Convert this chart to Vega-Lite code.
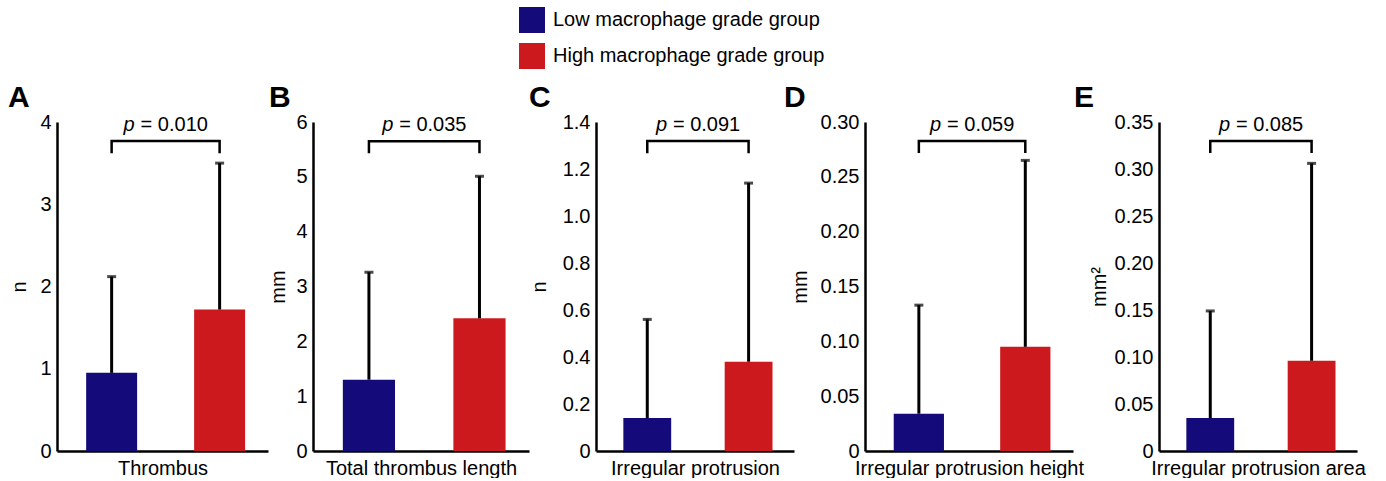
{
  "$schema": "https://vega.github.io/schema/vega-lite/v6.json",
  "padding": {"left": 8, "top": 7, "right": 0, "bottom": 0},
  "background": "white",
  "datasets": {
    "bars": [
      {"panel": "A", "group": "Low macrophage grade group", "mean": 0.95, "upper": 2.12},
      {"panel": "A", "group": "High macrophage grade group", "mean": 1.72, "upper": 3.5},
      {"panel": "B", "group": "Low macrophage grade group", "mean": 1.3, "upper": 3.26},
      {"panel": "B", "group": "High macrophage grade group", "mean": 2.42, "upper": 5.01},
      {"panel": "C", "group": "Low macrophage grade group", "mean": 0.14, "upper": 0.56},
      {"panel": "C", "group": "High macrophage grade group", "mean": 0.38, "upper": 1.14},
      {"panel": "D", "group": "Low macrophage grade group", "mean": 0.034, "upper": 0.133},
      {"panel": "D", "group": "High macrophage grade group", "mean": 0.095, "upper": 0.265},
      {"panel": "E", "group": "Low macrophage grade group", "mean": 0.035, "upper": 0.149},
      {"panel": "E", "group": "High macrophage grade group", "mean": 0.096, "upper": 0.306}
    ],
    "tests": [
      {"panel": "A", "label": "= 0.010", "ty": 3.96},
      {"panel": "B", "label": "= 0.035", "ty": 5.95},
      {"panel": "C", "label": "= 0.091", "ty": 1.387},
      {"panel": "D", "label": "= 0.059", "ty": 0.2973},
      {"panel": "E", "label": "= 0.085", "ty": 0.3468}
    ],
    "bracket": [
      {"panel": "A", "group": "Low macrophage grade group", "y": 3.62, "o": 1},
      {"panel": "A", "group": "Low macrophage grade group", "y": 3.77, "o": 2},
      {"panel": "A", "group": "High macrophage grade group", "y": 3.77, "o": 3},
      {"panel": "A", "group": "High macrophage grade group", "y": 3.62, "o": 4},
      {"panel": "B", "group": "Low macrophage grade group", "y": 5.43, "o": 1},
      {"panel": "B", "group": "Low macrophage grade group", "y": 5.65, "o": 2},
      {"panel": "B", "group": "High macrophage grade group", "y": 5.65, "o": 3},
      {"panel": "B", "group": "High macrophage grade group", "y": 5.43, "o": 4},
      {"panel": "C", "group": "Low macrophage grade group", "y": 1.267, "o": 1},
      {"panel": "C", "group": "Low macrophage grade group", "y": 1.319, "o": 2},
      {"panel": "C", "group": "High macrophage grade group", "y": 1.319, "o": 3},
      {"panel": "C", "group": "High macrophage grade group", "y": 1.267, "o": 4},
      {"panel": "D", "group": "Low macrophage grade group", "y": 0.2717, "o": 1},
      {"panel": "D", "group": "Low macrophage grade group", "y": 0.2827, "o": 2},
      {"panel": "D", "group": "High macrophage grade group", "y": 0.2827, "o": 3},
      {"panel": "D", "group": "High macrophage grade group", "y": 0.2717, "o": 4},
      {"panel": "E", "group": "Low macrophage grade group", "y": 0.317, "o": 1},
      {"panel": "E", "group": "Low macrophage grade group", "y": 0.3298, "o": 2},
      {"panel": "E", "group": "High macrophage grade group", "y": 0.3298, "o": 3},
      {"panel": "E", "group": "High macrophage grade group", "y": 0.317, "o": 4}
    ]
  },
  "spacing": -10,
  "hconcat": [
    {
      "spacing": 0,
      "hconcat": [
        {
          "width": 211, "height": 329,
          "title": {"text": "A", "dx": -49},
          "layer": [
            {"data": {"name": "bars"}, "transform": [{"filter": "datum.panel === 'A'"}], "mark": {"type": "bar"},
             "encoding": {
               "x": {"field": "group", "type": "nominal", "sort": ["Low macrophage grade group", "High macrophage grade group"], "scale": {"paddingInner": 0.528, "paddingOuter": 0.241, "align": 0.56}, "axis": {"title": "Thrombus"}},
               "y": {"field": "mean", "type": "quantitative", "scale": {"domain": [0, 4], "nice": false}, "axis": {"title": "n", "values": [0, 1, 2, 3, 4], "format": "d", "titlePadding": 10}},
               "color": {"field": "group", "type": "nominal", "scale": {"domain": ["Low macrophage grade group", "High macrophage grade group"], "range": ["#150a7a", "#cc191e"]}, "legend": {"title": null, "orient": "none", "legendX": 462, "legendY": -115, "direction": "vertical"}}
             }},
            {"data": {"name": "bars"}, "transform": [{"filter": "datum.panel === 'A'"}], "mark": {"type": "rule", "color": "black", "strokeWidth": 3},
             "encoding": {"x": {"field": "group", "type": "nominal", "sort": ["Low macrophage grade group", "High macrophage grade group"]}, "y": {"field": "mean", "type": "quantitative"}, "y2": {"field": "upper"}}},
            {"data": {"name": "bars"}, "transform": [{"filter": "datum.panel === 'A'"}], "mark": {"type": "tick", "orient": "horizontal", "color": "black", "size": 9, "thickness": 3},
             "encoding": {"x": {"field": "group", "type": "nominal", "sort": ["Low macrophage grade group", "High macrophage grade group"]}, "y": {"field": "upper", "type": "quantitative"}}},
            {"data": {"name": "bracket"}, "transform": [{"filter": "datum.panel === 'A'"}], "mark": {"type": "line", "color": "black", "strokeWidth": 2.5, "strokeCap": "butt"},
             "encoding": {"x": {"field": "group", "type": "nominal", "sort": ["Low macrophage grade group", "High macrophage grade group"]}, "y": {"field": "y", "type": "quantitative"}, "order": {"field": "o"}}},
            {"data": {"name": "tests"}, "transform": [{"filter": "datum.panel === 'A'"}], "mark": {"type": "text", "text": "p", "fontStyle": "italic", "align": "left", "baseline": "middle", "dx": -42, "fontSize": 20},
             "encoding": {"x": {"datum": "Low macrophage grade group", "type": "nominal", "bandPosition": 1.559}, "y": {"field": "ty", "type": "quantitative"}}},
            {"data": {"name": "tests"}, "transform": [{"filter": "datum.panel === 'A'"}], "mark": {"type": "text", "align": "left", "baseline": "middle", "dx": -25, "fontSize": 20},
             "encoding": {"x": {"datum": "Low macrophage grade group", "type": "nominal", "bandPosition": 1.559}, "y": {"field": "ty", "type": "quantitative"}, "text": {"field": "label"}}}
          ]
        },
        {
          "width": 216, "height": 329,
          "title": {"text": "B", "dx": -44},
          "layer": [
            {"data": {"name": "bars"}, "transform": [{"filter": "datum.panel === 'B'"}], "mark": {"type": "bar"},
             "encoding": {
               "x": {"field": "group", "type": "nominal", "sort": ["Low macrophage grade group", "High macrophage grade group"], "scale": {"paddingInner": 0.528, "paddingOuter": 0.241, "align": 0.56}, "axis": {"title": "Total thrombus length"}},
               "y": {"field": "mean", "type": "quantitative", "scale": {"domain": [0, 6], "nice": false}, "axis": {"title": "mm", "values": [0, 1, 2, 3, 4, 5, 6], "format": "d", "titlePadding": 7}},
               "color": {"field": "group", "type": "nominal", "scale": {"domain": ["Low macrophage grade group", "High macrophage grade group"], "range": ["#150a7a", "#cc191e"]}, "legend": {"title": null, "orient": "none", "legendX": 462, "legendY": -115, "direction": "vertical"}}
             }},
            {"data": {"name": "bars"}, "transform": [{"filter": "datum.panel === 'B'"}], "mark": {"type": "rule", "color": "black", "strokeWidth": 3},
             "encoding": {"x": {"field": "group", "type": "nominal", "sort": ["Low macrophage grade group", "High macrophage grade group"]}, "y": {"field": "mean", "type": "quantitative"}, "y2": {"field": "upper"}}},
            {"data": {"name": "bars"}, "transform": [{"filter": "datum.panel === 'B'"}], "mark": {"type": "tick", "orient": "horizontal", "color": "black", "size": 9, "thickness": 3},
             "encoding": {"x": {"field": "group", "type": "nominal", "sort": ["Low macrophage grade group", "High macrophage grade group"]}, "y": {"field": "upper", "type": "quantitative"}}},
            {"data": {"name": "bracket"}, "transform": [{"filter": "datum.panel === 'B'"}], "mark": {"type": "line", "color": "black", "strokeWidth": 2.5, "strokeCap": "butt"},
             "encoding": {"x": {"field": "group", "type": "nominal", "sort": ["Low macrophage grade group", "High macrophage grade group"]}, "y": {"field": "y", "type": "quantitative"}, "order": {"field": "o"}}},
            {"data": {"name": "tests"}, "transform": [{"filter": "datum.panel === 'B'"}], "mark": {"type": "text", "text": "p", "fontStyle": "italic", "align": "left", "baseline": "middle", "dx": -42, "fontSize": 20},
             "encoding": {"x": {"datum": "Low macrophage grade group", "type": "nominal", "bandPosition": 1.559}, "y": {"field": "ty", "type": "quantitative"}}},
            {"data": {"name": "tests"}, "transform": [{"filter": "datum.panel === 'B'"}], "mark": {"type": "text", "align": "left", "baseline": "middle", "dx": -25, "fontSize": 20},
             "encoding": {"x": {"datum": "Low macrophage grade group", "type": "nominal", "bandPosition": 1.559}, "y": {"field": "ty", "type": "quantitative"}, "text": {"field": "label"}}}
          ]
        },
        {
          "width": 198, "height": 329,
          "title": {"text": "C", "dx": -67},
          "layer": [
            {"data": {"name": "bars"}, "transform": [{"filter": "datum.panel === 'C'"}], "mark": {"type": "bar"},
             "encoding": {
               "x": {"field": "group", "type": "nominal", "sort": ["Low macrophage grade group", "High macrophage grade group"], "scale": {"paddingInner": 0.528, "paddingOuter": 0.241, "align": 0.56}, "axis": {"title": "Irregular protrusion"}},
               "y": {"field": "mean", "type": "quantitative", "scale": {"domain": [0, 1.4], "nice": false}, "axis": {"title": "n", "values": [0, 0.2, 0.4, 0.6, 0.8, 1.0, 1.2, 1.4], "labelExpr": "datum.value == 0 ? '0' : format(datum.value, '.1f')", "titlePadding": 13}},
               "color": {"field": "group", "type": "nominal", "scale": {"domain": ["Low macrophage grade group", "High macrophage grade group"], "range": ["#150a7a", "#cc191e"]}, "legend": {"title": null, "orient": "none", "legendX": 462, "legendY": -115, "direction": "vertical"}}
             }},
            {"data": {"name": "bars"}, "transform": [{"filter": "datum.panel === 'C'"}], "mark": {"type": "rule", "color": "black", "strokeWidth": 3},
             "encoding": {"x": {"field": "group", "type": "nominal", "sort": ["Low macrophage grade group", "High macrophage grade group"]}, "y": {"field": "mean", "type": "quantitative"}, "y2": {"field": "upper"}}},
            {"data": {"name": "bars"}, "transform": [{"filter": "datum.panel === 'C'"}], "mark": {"type": "tick", "orient": "horizontal", "color": "black", "size": 9, "thickness": 3},
             "encoding": {"x": {"field": "group", "type": "nominal", "sort": ["Low macrophage grade group", "High macrophage grade group"]}, "y": {"field": "upper", "type": "quantitative"}}},
            {"data": {"name": "bracket"}, "transform": [{"filter": "datum.panel === 'C'"}], "mark": {"type": "line", "color": "black", "strokeWidth": 2.5, "strokeCap": "butt"},
             "encoding": {"x": {"field": "group", "type": "nominal", "sort": ["Low macrophage grade group", "High macrophage grade group"]}, "y": {"field": "y", "type": "quantitative"}, "order": {"field": "o"}}},
            {"data": {"name": "tests"}, "transform": [{"filter": "datum.panel === 'C'"}], "mark": {"type": "text", "text": "p", "fontStyle": "italic", "align": "left", "baseline": "middle", "dx": -42, "fontSize": 20},
             "encoding": {"x": {"datum": "Low macrophage grade group", "type": "nominal", "bandPosition": 1.559}, "y": {"field": "ty", "type": "quantitative"}}},
            {"data": {"name": "tests"}, "transform": [{"filter": "datum.panel === 'C'"}], "mark": {"type": "text", "align": "left", "baseline": "middle", "dx": -25, "fontSize": 20},
             "encoding": {"x": {"datum": "Low macrophage grade group", "type": "nominal", "bandPosition": 1.559}, "y": {"field": "ty", "type": "quantitative"}, "text": {"field": "label"}}}
          ]
        }
      ]
    },
    {
      "width": 208, "height": 329,
      "title": {"text": "D", "dx": -81},
      "layer": [
        {"data": {"name": "bars"}, "transform": [{"filter": "datum.panel === 'D'"}], "mark": {"type": "bar"},
         "encoding": {
           "x": {"field": "group", "type": "nominal", "sort": ["Low macrophage grade group", "High macrophage grade group"], "scale": {"paddingInner": 0.528, "paddingOuter": 0.241, "align": 0.56}, "axis": {"title": "Irregular protrusion height"}},
           "y": {"field": "mean", "type": "quantitative", "scale": {"domain": [0, 0.3], "nice": false}, "axis": {"title": "mm", "values": [0, 0.05, 0.1, 0.15, 0.2, 0.25, 0.3], "labelExpr": "datum.value == 0 ? '0' : format(datum.value, '.2f')", "titlePadding": 10}},
           "color": {"field": "group", "type": "nominal", "scale": {"domain": ["Low macrophage grade group", "High macrophage grade group"], "range": ["#150a7a", "#cc191e"]}, "legend": {"title": null, "orient": "none", "legendX": 462, "legendY": -115, "direction": "vertical"}}
         }},
        {"data": {"name": "bars"}, "transform": [{"filter": "datum.panel === 'D'"}], "mark": {"type": "rule", "color": "black", "strokeWidth": 3},
         "encoding": {"x": {"field": "group", "type": "nominal", "sort": ["Low macrophage grade group", "High macrophage grade group"]}, "y": {"field": "mean", "type": "quantitative"}, "y2": {"field": "upper"}}},
        {"data": {"name": "bars"}, "transform": [{"filter": "datum.panel === 'D'"}], "mark": {"type": "tick", "orient": "horizontal", "color": "black", "size": 9, "thickness": 3},
         "encoding": {"x": {"field": "group", "type": "nominal", "sort": ["Low macrophage grade group", "High macrophage grade group"]}, "y": {"field": "upper", "type": "quantitative"}}},
        {"data": {"name": "bracket"}, "transform": [{"filter": "datum.panel === 'D'"}], "mark": {"type": "line", "color": "black", "strokeWidth": 2.5, "strokeCap": "butt"},
         "encoding": {"x": {"field": "group", "type": "nominal", "sort": ["Low macrophage grade group", "High macrophage grade group"]}, "y": {"field": "y", "type": "quantitative"}, "order": {"field": "o"}}},
        {"data": {"name": "tests"}, "transform": [{"filter": "datum.panel === 'D'"}], "mark": {"type": "text", "text": "p", "fontStyle": "italic", "align": "left", "baseline": "middle", "dx": -42, "fontSize": 20},
         "encoding": {"x": {"datum": "Low macrophage grade group", "type": "nominal", "bandPosition": 1.559}, "y": {"field": "ty", "type": "quantitative"}}},
        {"data": {"name": "tests"}, "transform": [{"filter": "datum.panel === 'D'"}], "mark": {"type": "text", "align": "left", "baseline": "middle", "dx": -25, "fontSize": 20},
         "encoding": {"x": {"datum": "Low macrophage grade group", "type": "nominal", "bandPosition": 1.559}, "y": {"field": "ty", "type": "quantitative"}, "text": {"field": "label"}}}
      ]
    },
    {
      "width": 198, "height": 329,
      "title": {"text": "E", "dx": -85},
      "layer": [
        {"data": {"name": "bars"}, "transform": [{"filter": "datum.panel === 'E'"}], "mark": {"type": "bar"},
         "encoding": {
           "x": {"field": "group", "type": "nominal", "sort": ["Low macrophage grade group", "High macrophage grade group"], "scale": {"paddingInner": 0.528, "paddingOuter": 0.241, "align": 0.56}, "axis": {"title": "Irregular protrusion area"}},
           "y": {"field": "mean", "type": "quantitative", "scale": {"domain": [0, 0.35], "nice": false}, "axis": {"title": "mm²", "values": [0, 0.05, 0.1, 0.15, 0.2, 0.25, 0.3, 0.35], "labelExpr": "datum.value == 0 ? '0' : format(datum.value, '.2f')", "titlePadding": 5}},
           "color": {"field": "group", "type": "nominal", "scale": {"domain": ["Low macrophage grade group", "High macrophage grade group"], "range": ["#150a7a", "#cc191e"]}, "legend": {"title": null, "orient": "none", "legendX": 462, "legendY": -115, "direction": "vertical"}}
         }},
        {"data": {"name": "bars"}, "transform": [{"filter": "datum.panel === 'E'"}], "mark": {"type": "rule", "color": "black", "strokeWidth": 3},
         "encoding": {"x": {"field": "group", "type": "nominal", "sort": ["Low macrophage grade group", "High macrophage grade group"]}, "y": {"field": "mean", "type": "quantitative"}, "y2": {"field": "upper"}}},
        {"data": {"name": "bars"}, "transform": [{"filter": "datum.panel === 'E'"}], "mark": {"type": "tick", "orient": "horizontal", "color": "black", "size": 9, "thickness": 3},
         "encoding": {"x": {"field": "group", "type": "nominal", "sort": ["Low macrophage grade group", "High macrophage grade group"]}, "y": {"field": "upper", "type": "quantitative"}}},
        {"data": {"name": "bracket"}, "transform": [{"filter": "datum.panel === 'E'"}], "mark": {"type": "line", "color": "black", "strokeWidth": 2.5, "strokeCap": "butt"},
         "encoding": {"x": {"field": "group", "type": "nominal", "sort": ["Low macrophage grade group", "High macrophage grade group"]}, "y": {"field": "y", "type": "quantitative"}, "order": {"field": "o"}}},
        {"data": {"name": "tests"}, "transform": [{"filter": "datum.panel === 'E'"}], "mark": {"type": "text", "text": "p", "fontStyle": "italic", "align": "left", "baseline": "middle", "dx": -42, "fontSize": 20},
         "encoding": {"x": {"datum": "Low macrophage grade group", "type": "nominal", "bandPosition": 1.559}, "y": {"field": "ty", "type": "quantitative"}}},
        {"data": {"name": "tests"}, "transform": [{"filter": "datum.panel === 'E'"}], "mark": {"type": "text", "align": "left", "baseline": "middle", "dx": -25, "fontSize": 20},
         "encoding": {"x": {"datum": "Low macrophage grade group", "type": "nominal", "bandPosition": 1.559}, "y": {"field": "ty", "type": "quantitative"}, "text": {"field": "label"}}}
      ]
    }
  ],
  "config": {
    "font": "Liberation Sans",
    "view": {"stroke": null},
    "title": {"fontSize": 30, "fontWeight": "bold", "anchor": "start", "frame": "group", "color": "black", "offset": -1},
    "text": {"color": "black", "font": "Liberation Sans"},
    "axis": {"domainColor": "black", "domainWidth": 2.5, "ticks": false, "tickSize": 0, "grid": false, "labelFontSize": 20, "labelColor": "black", "labelFont": "Liberation Sans", "titleFont": "Liberation Sans", "titleFontSize": 20, "titleFontWeight": "normal", "titleColor": "black"},
    "axisX": {"labels": false, "titlePadding": 7},
    "axisY": {"labelPadding": 6},
    "legend": {"symbolType": "square", "symbolSize": 676, "symbolStrokeWidth": 0, "symbolOpacity": 1, "labelFontSize": 20, "labelColor": "black", "labelFont": "Liberation Sans", "labelOffset": 8, "rowPadding": 10, "labelLimit": 400}
  }
}
